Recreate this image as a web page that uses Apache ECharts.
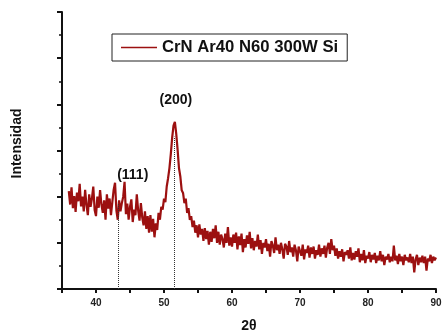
<!DOCTYPE html>
<html>
<head>
<meta charset="utf-8">
<script src="https://cdn.jsdelivr.net/npm/echarts@6/dist/echarts.min.js"></script>
<style>html,body{margin:0;padding:0;background:#fff;}#c{width:443px;height:330px;}</style>
</head>
<body>
<div id="c"></div>
<script>
const seriesName = 'CrN Ar40 N60 300W Si';
const twoThetaStart = 36.0;
const twoThetaStep = 0.2;
const intensity = [
212,183,220,175,201, 167,209,190,228,179, 200,168,215,182,160, 205,178,196,222,171,
158,200,176,214,183, 165,192,150,205,174, 196,160,188,215,230, 170,150,192,168,186,
200,232,162,185,150, 178,194,145,172,160, 205,170,148,186,155, 138,168,130,158,122,
160,124,152,112,142, 128,165,150,178,172, 196,188,222,240,262, 292,328,354,362,336,
302,262,244,214,208, 186,196,165,175,150, 158,134,148,122,138, 112,140,118,130,104,
132,108,126,96,124, 102,130,110,138,100, 124,96,118,108,90, 120,100,134,94,112,
92,118,100,122,86, 114,95,120,80,108, 90,116,98,124,88, 110,84,104,92,118,
86,106,76,100,90, 108,82,98,70,104, 94,78,112,84,96, 76,100,86,66,98,
92,74,104,80,90, 70,96,84,60,92, 88,72,96,64,86, 78,94,68,90,76,
92,66,84,74,96, 70,88,76,94,68, 90,100,76,108,84, 94,72,88,66,82,
70,86,60,80,74, 84,66,90,62,78, 64,82,70,88,58, 76,62,84,56,72,
66,80,58,74,64, 78,56,72,62,82, 60,74,52,70,64, 76,58,70,60,94,
62,72,54,76,60, 70,52,74,62,68, 58,76,56,70,36, 64,74,52,68,58,
72,56,70,40,66, 60,74,56,70,62, 68
];
const peakLabels = ['(111)', '(200)'];
const peakPositions = [43.2, 51.45];
const peakLineTops = [185, 330];
const peakLabelPos = [[45.4, 246], [51.75, 410]];
const xTickLabels = [40, 50, 60, 70, 80, 90];

const data = intensity.map((v, i) => [+(twoThetaStart + i * twoThetaStep).toFixed(2), v]);

const chart = echarts.init(document.getElementById('c'), null, {renderer: 'canvas'});
const font = 'Arial, "Liberation Sans", sans-serif';
chart.setOption({
  animation: false,
  backgroundColor: '#fff',
  grid: {left: 62, right: 7, top: 12, bottom: 41, outerBoundsMode: 'none', containLabel: false},
  legend: {
    left: 112, top: 34,
    data: [seriesName],
    icon: 'rect', itemWidth: 36, itemHeight: 1.5, itemGap: 5,
    padding: [5, 9, 5, 9],
    borderColor: '#222', borderWidth: 1,
    textStyle: {fontFamily: font, fontSize: 16.7, fontWeight: 'bold', color: '#111'}
  },
  xAxis: {
    type: 'value', min: 35, max: 90, interval: 5,
    name: '2θ', nameLocation: 'middle', nameGap: 30,
    nameTextStyle: {fontFamily: font, fontSize: 14, fontWeight: 'bold', color: '#111'},
    axisLine: {lineStyle: {color: '#111', width: 2}},
    axisTick: {length: 4, lineStyle: {color: '#111', width: 2}},
    axisLabel: {
      margin: 9, fontFamily: font, fontSize: 10, fontWeight: 'bold', color: '#222',
      formatter: v => xTickLabels.indexOf(v) >= 0 ? String(v) : ''
    },
    splitLine: {show: false}
  },
  yAxis: {
    type: 'value', min: 0, max: 600, interval: 100,
    name: 'Intensidad', nameLocation: 'middle', nameGap: 38,
    nameTextStyle: {fontFamily: font, fontSize: 14, fontWeight: 'bold', color: '#111', padding: [0, 0, 0, 14]},
    axisLine: {show: true, lineStyle: {color: '#111', width: 2}},
    axisTick: {show: true, length: 5, lineStyle: {color: '#111', width: 2}},
    minorTick: {show: true, splitNumber: 2, length: 3, lineStyle: {color: '#111', width: 1.5}},
    axisLabel: {show: false},
    splitLine: {show: false}
  },
  series: [
    {
      name: seriesName, type: 'line', data: data, showSymbol: false,
      lineStyle: {color: '#9c1010', width: 2.2}, itemStyle: {color: '#9c1010'},
      emphasis: {disabled: true},
      z: 3,
      markLine: {
        silent: true, symbol: 'none', label: {show: false},
        lineStyle: {color: '#333', type: 'dotted', width: 1},
        data: peakPositions.map((p, i) => [{coord: [p, 0]}, {coord: [p, peakLineTops[i]]}])
      },
      markPoint: {
        silent: true, symbol: 'circle', symbolSize: 1,
        itemStyle: {color: 'rgba(0,0,0,0)'},
        label: {
          show: true, position: 'inside', formatter: p => p.name,
          fontFamily: font, fontSize: 14, fontWeight: 'bold', color: '#111'
        },
        data: peakLabelPos.map((p, i) => ({coord: p, name: peakLabels[i]}))
      }
    }
  ]
});
</script>
</body>
</html>
